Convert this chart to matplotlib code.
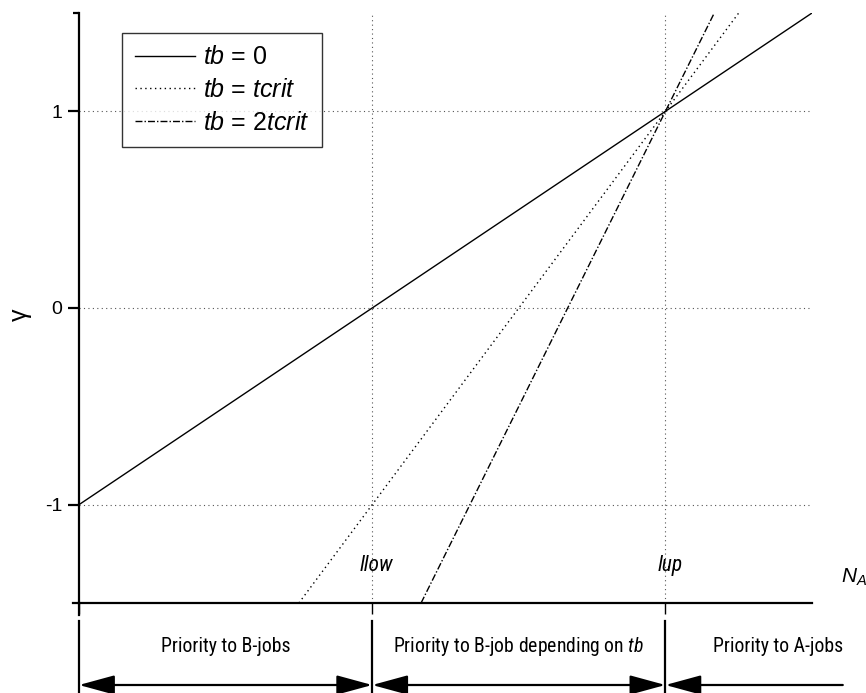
import matplotlib
matplotlib.use("Agg")
import matplotlib.pyplot as plt
from matplotlib import font_manager
from matplotlib.patches import FancyArrowPatch
import matplotlib.transforms as mtransforms

def has_font(name):
    try:
        font_manager.findfont(name, fallback_to_default=False)
        return True
    except Exception:
        return False

NARROW = None
for cand in ["Liberation Sans Narrow", "Arial Narrow", "Roboto Condensed",
             "Open Sans Condensed", "Noto Sans Condensed"]:
    if has_font(cand):
        NARROW = cand
        break
if NARROW is None:
    NARROW = "Liberation Sans"
    NARROW_SIZE = 12.5
else:
    NARROW_SIZE = 14.2
REG = "Liberation Sans"

plt.rcParams["font.family"] = [REG, "DejaVu Sans"]
plt.rcParams["mathtext.fontset"] = "custom"
plt.rcParams["mathtext.rm"] = REG
plt.rcParams["mathtext.it"] = REG + ":italic"
plt.rcParams["mathtext.sf"] = NARROW + ":italic"

# ---- data ----
x_limits = [0.0, 2.5]
y_limits = [-1.5, 1.5]
y_ticks = [-1, 0, 1]
y_tick_labels = ["-1", "0", "1"]
x_marks = [0, 1, 2]            # 0, llow, lup
x_mark_labels = ["", "llow", "lup"]

tb0_x = [0.0, 2.5]
tb0_y = [-1.0, 1.5]
tcrit_x = [0.75, 2.25]
tcrit_y = [-1.5, 1.5]
t2crit_x = [1.1667, 2.1667]
t2crit_y = [-1.5, 1.5]

legend_labels = [r"$tb$ = 0", r"$tb$ = $tcrit$", r"$tb$ = 2$tcrit$"]
region_labels = ["Priority to B-jobs",
                 r"Priority to B-job depending on $\mathsf{tb}$",
                 "Priority to A-jobs"]
region_bounds = [0, 1, 2, 2.605]
region_centers = [0.5, 1.5, 2.383]

W, H = 866, 693
fig = plt.figure(figsize=(W / 100, H / 100), dpi=100)
ax = fig.add_axes([79 / W, 90 / H, 733 / W, 590 / H])
ax.set_xlim(*x_limits)
ax.set_ylim(*y_limits)

# grid
for yv in y_ticks:
    ax.plot(x_limits, [yv, yv], color="#555555", lw=0.8, ls=(0, (1, 3)), zorder=1)
for xv in x_marks[1:]:
    ax.plot([xv, xv], y_limits, color="#555555", lw=0.8, ls=(0, (1, 3)), zorder=1)

l1, = ax.plot(tb0_x, tb0_y, color="black", lw=1.0, label=legend_labels[0], zorder=3)
l2, = ax.plot(tcrit_x, tcrit_y, color="black", lw=1.0, ls=(0, (1, 2.5)), label=legend_labels[1], zorder=3)
l3, = ax.plot(t2crit_x, t2crit_y, color="black", lw=1.0, ls=(0, (5, 1.5, 1, 1.5)), label=legend_labels[2], zorder=3)

# spines
for s in ["top", "right"]:
    ax.spines[s].set_visible(False)
ax.spines["left"].set_linewidth(1.6)
ax.spines["bottom"].set_linewidth(1.6)

ax.set_yticks(y_ticks)
ax.set_yticklabels(y_tick_labels, fontsize=14)
ax.tick_params(axis="y", direction="out", length=8, width=1.6, pad=4)
ax.set_yticks([1.5], minor=True)
ax.tick_params(axis="y", which="minor", direction="out", length=4, width=1.6)
ax.set_xticks(x_marks)
ax.set_xticklabels([])
ax.tick_params(axis="x", direction="out", length=8, width=1.0)

# extend spines slightly beyond corner
ax.plot([0, 0], [0, -12 / 590], transform=ax.transAxes, color="black", lw=1.6, clip_on=False)
ax.plot([-6 / 733, 0], [0, 0], transform=ax.transAxes, color="black", lw=1.6, clip_on=False)

# region labels
for xv, lab in zip(x_marks[1:], x_mark_labels[1:]):
    ax.text(xv + 0.015, -1.31, lab, fontsize=15.5, fontstyle="italic", family=NARROW,
            ha="center", va="center")
ax.text(2.60, -1.37, r"$N_A$", fontsize=15, ha="left", va="center", clip_on=False)

fig.text(20 / W, 1 - 315 / H, "γ", rotation=90, fontsize=18, ha="center", va="center")

# legend
leg = ax.legend(handles=[l1, l2, l3], loc="upper left", bbox_to_anchor=(43 / 733, 570 / 590),
                borderaxespad=0, fontsize=18, frameon=True, fancybox=False,
                edgecolor="black", handlelength=2.4, handletextpad=0.35,
                labelspacing=0.34, borderpad=0.5)
leg.get_frame().set_linewidth(1.0)

# annotation below the axis
btrans = mtransforms.blended_transform_factory(ax.transData, fig.transFigure)
y_top = 1 - 621 / H
y_arrow = 1 - 685 / H
y_text = 1 - 646 / H
for xv in x_marks:
    fig.add_artist(plt.Line2D([xv, xv], [y_top, 0], transform=btrans, color="black", lw=1.6))
styles = ["<|-|>", "<|-|>", "<|-"]
for i in range(3):
    a = FancyArrowPatch((region_bounds[i], y_arrow), (region_bounds[i + 1], y_arrow),
                        transform=btrans, arrowstyle=styles[i] + ",head_length=22,head_width=6",
                        mutation_scale=1, shrinkA=0, shrinkB=0, color="black", lw=1.6)
    fig.add_artist(a)
for c, lab in zip(region_centers, region_labels):
    fig.text(c, y_text, lab, transform=btrans, family=NARROW, fontsize=NARROW_SIZE,
             ha="center", va="center")

fig.savefig("out.png", dpi=100)
